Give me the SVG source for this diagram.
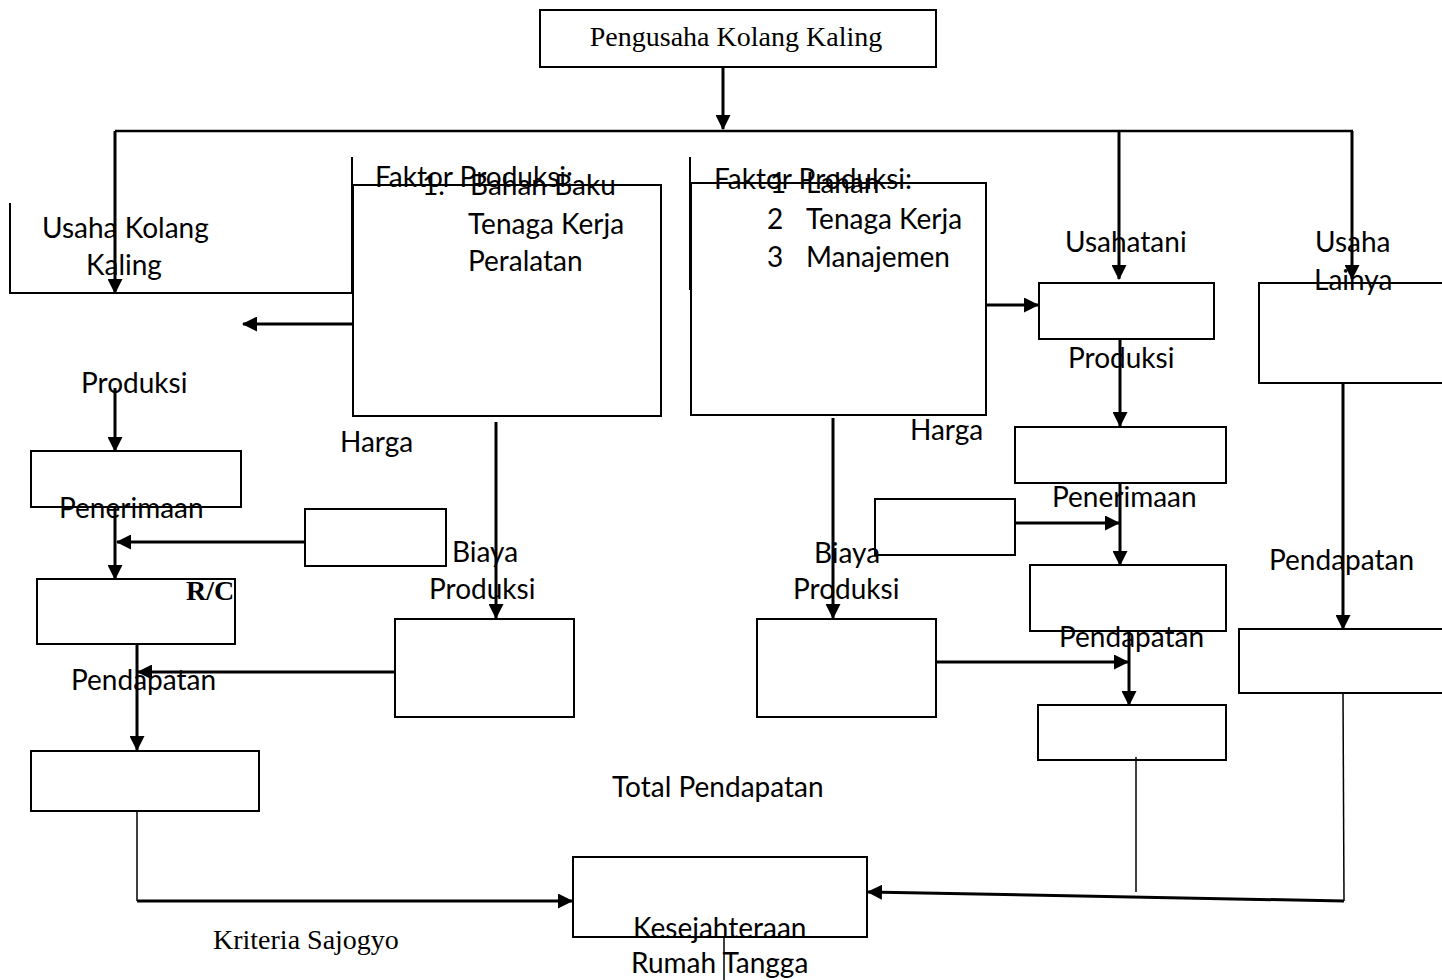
<svg xmlns="http://www.w3.org/2000/svg" width="1442" height="980" viewBox="0 0 1442 980">
<style>
.b{fill:none;stroke:#000;stroke-width:2}
.c{fill:none;stroke:#000;stroke-width:2.5}
.t{fill:none;stroke:#000;stroke-width:1.5}
.a{fill:none;stroke:#000;stroke-width:3;marker-end:url(#ah)}
text{font-family:Lato,"Open Sans",sans-serif;font-size:28px;fill:#000}
.s{font-family:"Liberation Serif","Times New Roman",serif}
</style>
<defs>
<marker id="ah" markerWidth="15" markerHeight="15" refX="14" refY="7.5" orient="auto" markerUnits="userSpaceOnUse"><path d="M0,0 L15,7.5 L0,15 z" fill="#000"/></marker>
</defs>
<rect width="1442" height="980" fill="#fff"/>
<g id="connectors">
<line class="a" x1="723" y1="67" x2="723" y2="129"/>
<line class="c" x1="115" y1="131" x2="1353" y2="131"/>
<line class="a" x1="115" y1="131" x2="115" y2="293"/>
<line class="a" x1="1119" y1="131" x2="1119" y2="279"/>
<line class="a" x1="1352" y1="131" x2="1352" y2="279"/>
<polyline class="b" points="10,203 10,293 352,293 352,157"/>
<line class="b" x1="690" y1="157" x2="690" y2="290"/>
<line class="a" x1="352" y1="324" x2="243" y2="324"/>
<line class="a" x1="986" y1="305" x2="1038" y2="305"/>
<line class="a" x1="115" y1="388" x2="115" y2="451"/>
<line class="a" x1="115" y1="507" x2="115" y2="579"/>
<line class="a" x1="305" y1="542" x2="117" y2="542"/>
<line class="a" x1="496" y1="422" x2="496" y2="618"/>
<line class="a" x1="395" y1="672" x2="138" y2="672"/>
<line class="a" x1="137" y1="644" x2="137" y2="750"/>
<polyline class="t" points="137,811 137,901"/>
<line class="a" x1="137" y1="901" x2="572" y2="901"/>
<line class="a" x1="833" y1="418" x2="833" y2="618"/>
<line class="a" x1="1120" y1="339" x2="1120" y2="426"/>
<line class="a" x1="1120" y1="483" x2="1120" y2="565"/>
<line class="a" x1="1015" y1="523" x2="1119" y2="523"/>
<line class="a" x1="1129" y1="631" x2="1129" y2="705"/>
<line class="a" x1="936" y1="662" x2="1128" y2="662"/>
<line class="a" x1="1343" y1="383" x2="1343" y2="629"/>
<line class="t" x1="1343" y1="693" x2="1344" y2="901"/>
<line class="a" x1="1344" y1="901" x2="868" y2="892"/>
<line class="t" x1="1136" y1="757" x2="1136" y2="892"/>
<line class="t" x1="724" y1="937" x2="724" y2="980"/>
</g>
<g id="n-top"><rect class="b" x="540" y="10" width="396" height="57"/><text class="s" x="736" y="46" text-anchor="middle" font-size="29">Pengusaha Kolang Kaling</text></g>
<g id="n-ukk"><text x="42" y="238">Usaha Kolang</text><text x="86" y="275">Kaling</text></g>
<g id="n-f1"><rect class="b" x="353" y="185" width="308" height="231"/><text x="375" y="187" font-size="26">Faktor Produksi:</text><text x="422" y="195">1.</text><text x="470" y="195">Bahan Baku</text><text x="468" y="234">Tenaga Kerja</text><text x="468" y="271">Peralatan</text></g>
<g id="n-f2"><rect class="b" x="691" y="183" width="295" height="232"/><text x="714" y="189" font-size="26">Faktor Produksi:</text><text x="770" y="193">1</text><text x="806" y="193">Lahan</text><text x="767" y="229">2</text><text x="806" y="229">Tenaga Kerja</text><text x="767" y="267">3</text><text x="806" y="267">Manajemen</text></g>
<g id="n-ut"><rect class="b" x="1039" y="283" width="175" height="56"/><text x="1065" y="252">Usahatani</text><text x="1068" y="368">Produksi</text></g>
<g id="n-ul"><rect class="b" x="1259" y="283" width="190" height="100"/><text x="1315" y="252">Usaha</text><text x="1314" y="290">Lainya</text></g>
<g id="n-l1"><text x="81" y="393">Produksi</text><rect class="b" x="31" y="451" width="210" height="56"/><text x="59" y="518">Penerimaan</text></g>
<g id="n-h1"><text x="340" y="452">Harga</text><rect class="b" x="305" y="509" width="141" height="57"/></g>
<g id="n-rc"><rect class="b" x="37" y="579" width="198" height="65"/><text class="s" x="186" y="600" font-size="32" font-weight="bold">R/C</text></g>
<g id="n-b1"><text x="452" y="562">Biaya</text><text x="429" y="599">Produksi</text><rect class="b" x="395" y="619" width="179" height="98"/></g>
<g id="n-l4"><text x="71" y="690">Pendapatan</text><rect class="b" x="31" y="751" width="228" height="60"/></g>
<g id="n-r1"><rect class="b" x="1015" y="427" width="211" height="56"/><text x="1052" y="507">Penerimaan</text></g>
<g id="n-h2"><text x="910" y="440">Harga</text><rect class="b" x="875" y="499" width="140" height="56"/></g>
<g id="n-r2"><rect class="b" x="1030" y="565" width="196" height="66"/><text x="1059" y="647">Pendapatan</text></g>
<g id="n-b2"><text x="814" y="563">Biaya</text><text x="793" y="599">Produksi</text><rect class="b" x="757" y="619" width="179" height="98"/></g>
<g id="n-r3"><rect class="b" x="1038" y="705" width="188" height="55"/></g>
<g id="n-ul2"><text x="1269" y="570">Pendapatan</text><rect class="b" x="1239" y="629" width="210" height="64"/></g>
<g id="n-total"><text x="612" y="797">Total Pendapatan</text></g>
<g id="n-krit"><text class="s" x="213" y="949" font-size="27">Kriteria Sajogyo</text></g>
<g id="n-kes"><rect class="b" x="573" y="857" width="294" height="80"/><text x="633" y="938">Kesejahteraan</text><text x="631" y="973">Rumah Tangga</text></g>
</svg>
